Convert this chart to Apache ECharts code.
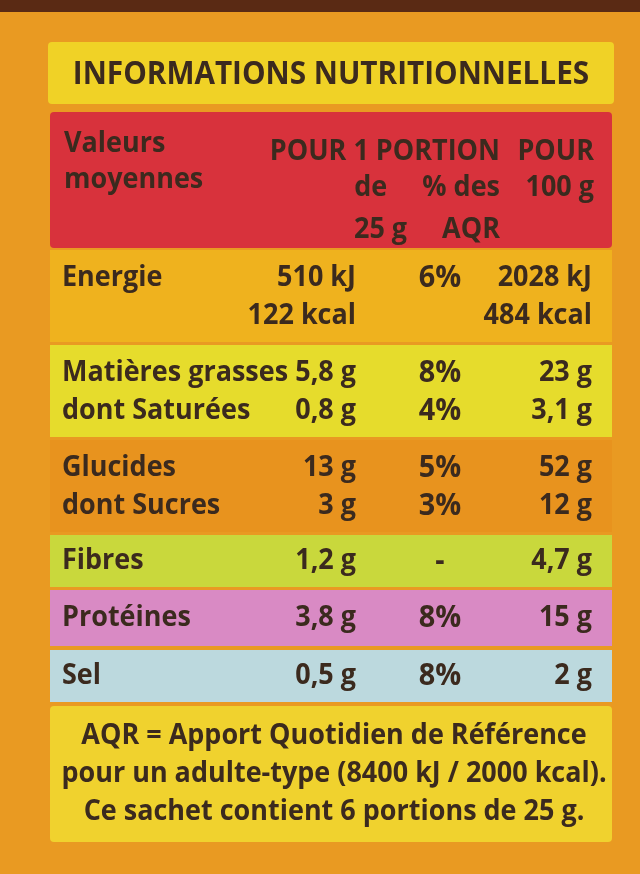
<!DOCTYPE html>
<html><head><meta charset="utf-8">
<script src="https://cdn.jsdelivr.net/npm/echarts@6/dist/echarts.min.js"></script>
<style>html,body{margin:0;padding:0;background:#5a2a14}#c{width:640px;height:874px}</style>
</head><body><div id="c"></div>
<script>
const title = "INFORMATIONS NUTRITIONNELLES";
const headerLines = [["Valeurs", "POUR 1 PORTION", "POUR"], ["moyennes", "de     % des", "100 g"], ["", "25 g     AQR", ""]];
const rowLabels = [["Energie", ""], ["Matières grasses", "dont Saturées"], ["Glucides", "dont Sucres"], ["Fibres"], ["Protéines"], ["Sel"]];
const perPortion = [["510 kJ", "122 kcal"], ["5,8 g", "0,8 g"], ["13 g", "3 g"], ["1,2 g"], ["3,8 g"], ["0,5 g"]];
const aqr = [["6%", ""], ["8%", "4%"], ["5%", "3%"], ["-"], ["8%"], ["8%"]];
const per100 = [["2028 kJ", "484 kcal"], ["23 g", "3,1 g"], ["52 g", "12 g"], ["4,7 g"], ["15 g"], ["2 g"]];
const footer = ["AQR = Apport Quotidien de Référence", "pour un adulte-type (8400 kJ / 2000 kcal).", "Ce sachet contient 6 portions de 25 g."];

const bands = [[250, 92, '#efb21e'], [345, 92, '#e6dc2c'], [440, 92, '#e8931e'], [535, 52, '#c9d83c'], [590, 56, '#d98ac4'], [650, 52, '#bcd9de']];
const F = '"Open Sans",sans-serif';
const C = '#3b2a1e';
const g = [];
g.push({type:'rect', shape:{x:0,y:0,width:640,height:874}, style:{fill:'#e99a22'}});
g.push({type:'rect', shape:{x:0,y:0,width:640,height:12}, style:{fill:'#5a2a14'}});
g.push({type:'rect', shape:{x:48,y:42,width:566,height:62,r:4}, style:{fill:'#f0d226'}});
function t(s, x, y, align, size, sx){
  g.push({type:'text', x:x, y:y, scaleX:sx||0.93, style:{text:s, x:0, y:0, align:align, verticalAlign:'middle', font:'bold '+(size||29)+'px '+F, fill:C}});
}
t(title,331,75,'center',33,0.9);
g.push({type:'rect', shape:{x:50,y:112,width:562,height:136,r:4}, style:{fill:'#d8323c'}});
const hy = [152, 188, 230];
headerLines.forEach((l,i)=>{ t(l[0],64,hy[i]-8,'left'); t(l[1],500,hy[i],'right'); t(l[2],594,hy[i],'right'); });
bands.forEach((b,i)=>{
  g.push({type:'rect', shape:{x:50,y:b[0],width:562,height:b[1]}, style:{fill:b[2]}});
  const n = rowLabels[i].length;
  for(let k=0;k<n;k++){
    const y = n===1 ? b[0]+b[1]/2 : b[0]+28+k*38;
    t(rowLabels[i][k],62,y,'left'); t(perPortion[i][k],356,y,'right');
    t(aqr[i][k],440,y,'center',31); t(per100[i][k],592,y,'right');
  }
});
g.push({type:'rect', shape:{x:50,y:706,width:562,height:136,r:4}, style:{fill:'#f0d22e'}});
footer.forEach((s,i)=>t(s,334,736+i*38,'center',29,0.93));
echarts.init(document.getElementById('c')).setOption({animation:false, graphic:g});
</script></body></html>
